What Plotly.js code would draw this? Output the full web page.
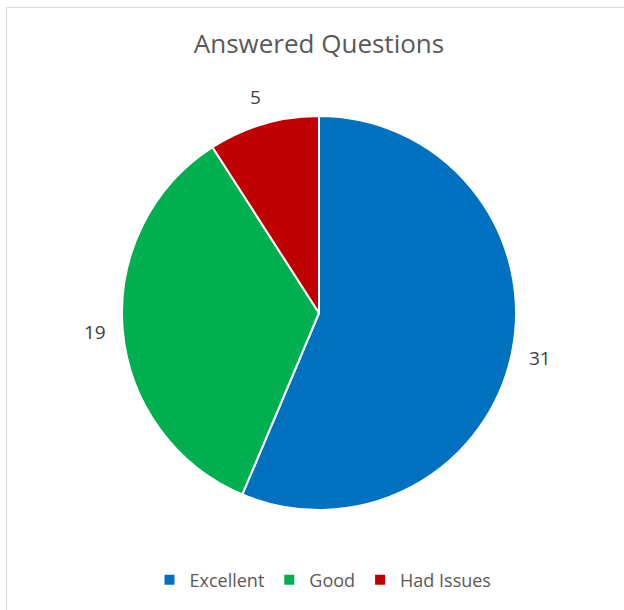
<!DOCTYPE html>
<html><head><meta charset="utf-8">
<script src="https://cdn.plot.ly/plotly-3.0.1.min.js"></script>
<style>html,body{margin:0;padding:0;background:#fff;}#chart{width:624px;height:610px;}</style>
</head><body><div id="chart"></div>
<script>
const labels = ["Excellent", "Good", "Had Issues"];
const values = [31, 19, 5];
const colors = ["#0070C0", "#00B050", "#C00000"];

const W = 624, H = 610;
const cx = 319, cy = 313, r = 197, labR = 225;
const total = values.reduce((a, b) => a + b, 0);
let acc = 0;
const annotations = values.map((v, i) => {
  const mid = (acc + v / 2) / total * 2 * Math.PI;
  acc += v;
  const px = cx + labR * Math.sin(mid);
  const py = cy - labR * Math.cos(mid);
  return {text: String(v), x: px / W, y: 1 - py / H, xref: "paper", yref: "paper",
    showarrow: false, xanchor: "center", yanchor: "middle",
    font: {family: "Open Sans, sans-serif", size: 19, color: "#404040"}};
});

const data = [{
  type: "pie", labels: labels, values: values, sort: false, direction: "clockwise", rotation: 0,
  marker: {colors: colors, line: {color: "#ffffff", width: 2}},
  textinfo: "none", hoverinfo: "label+value",
  domain: {x: [(cx - r) / W, (cx + r) / W], y: [1 - (cy + r) / H, 1 - (cy - r) / H]}
}];

const layout = {
  width: W, height: H, margin: {l: 0, r: 0, t: 0, b: 0},
  paper_bgcolor: "#ffffff",
  title: {text: "Answered Questions", x: 319 / W, xanchor: "center", y: 1 - 44 / H, yanchor: "middle",
    font: {family: "Open Sans, sans-serif", size: 26, color: "#595959"}},
  showlegend: true,
  legend: {orientation: "h", x: 323 / W, xanchor: "center", y: 1 - 580 / H, yanchor: "middle",
    font: {family: "Open Sans, sans-serif", size: 18, color: "#595959"}, itemwidth: 30, traceorder: "normal"},
  annotations: annotations,
  shapes: [
    {type: "line", xref: "paper", yref: "paper", x0: 6.5 / W, x1: 1.01, y0: 1 - 7.5 / H, y1: 1 - 7.5 / H, line: {color: "#d9d9d9", width: 1}},
    {type: "line", xref: "paper", yref: "paper", x0: 6.5 / W, x1: 6.5 / W, y0: -0.01, y1: 1 - 7.5 / H, line: {color: "#d9d9d9", width: 1}}
  ]
};
Plotly.newPlot("chart", data, layout, {displayModeBar: false, staticPlot: true});
</script></body></html>
